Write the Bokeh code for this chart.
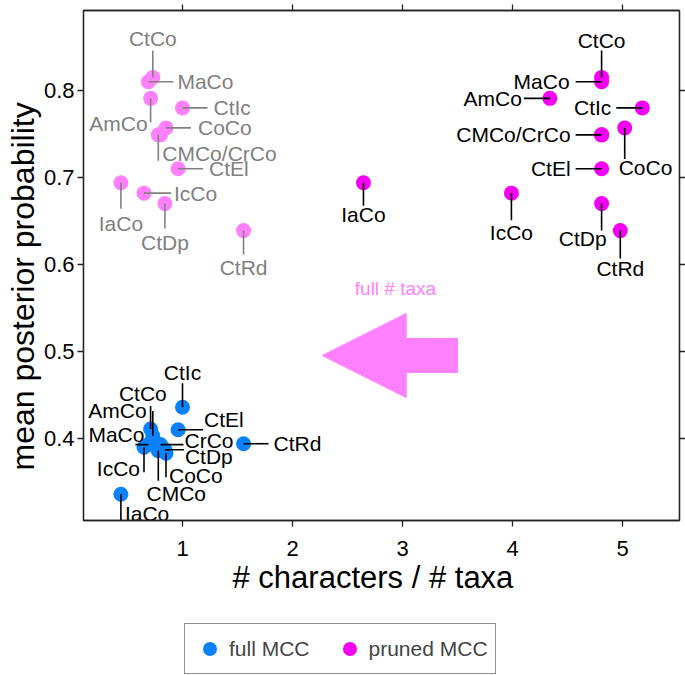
import numpy as np
from bokeh.plotting import figure
from bokeh.layouts import column
from bokeh.models import (LinearAxis, FixedTicker, Legend, LegendItem, Range1d, Title,
                          CustomJSTickFormatter)
from bokeh.core.properties import value
from bokeh.embed import file_html
from bokeh.resources import INLINE

# ---------------- data ----------------
taxa = ["CtCo", "MaCo", "AmCo", "CtIc", "CoCo", "CMCo", "CrCo", "CtEl", "IaCo", "IcCo", "CtDp", "CtRd"]
# full MCC: # characters / # taxa, mean posterior probability
full_x = [0.73, 0.69, 0.71, 1.00, 0.85, 0.78, 0.80, 0.96, 0.44, 0.65, 0.84, 1.555]
full_y = [0.403, 0.393, 0.411, 0.436, 0.383, 0.386, 0.393, 0.410, 0.336, 0.390, 0.387, 0.394]
# pruned MCC
pruned_x = [4.81, 4.81, 4.34, 5.18, 5.02, 4.81, 4.81, 4.81, 2.645, 3.99, 4.81, 4.98]
pruned_y = [0.815, 0.810, 0.791, 0.780, 0.757, 0.749, 0.749, 0.710, 0.694, 0.682, 0.670, 0.639]

x_ticks = [1, 2, 3, 4, 5]
y_ticks = [0.4, 0.5, 0.6, 0.7, 0.8]
series_names = ["full MCC", "pruned MCC"]
arrow_text = "full # taxa"
x_title = "# characters / # taxa"
y_title = "mean posterior probability"

# ---------------- layout / style ----------------
FONT = "Liberation Sans"
BLUE = "#0a82ff"
MAGENTA = "#f500f5"
PINK = "#ff80ff"
GREY = "#808080"
AXC = "#222222"

FW, FH = 596, 510
X0 = 0.10
Y0 = 0.30575
X1 = X0 + FW / 110.0
Y1 = Y0 + FH / 870.0
ppx = FW / (X1 - X0)
ppy = FH / (Y1 - Y0)

# label placement in screen px relative to the point (+dy = down):
# (text, line_dx, line_dy, text_dx, text_dy, align)
pruned_labels = {
    "CtCo": ("CtCo", 0, -27, 0, -37, "center"),
    "MaCo": ("MaCo", -26, 0, -32, 0, "right"),
    "AmCo": ("AmCo", -26, 0, -28, 0, "right"),
    "CtIc": ("CtIc", -26, 0, -31, 0, "right"),
    "CoCo": ("CoCo", 0, 31, -6, 40, "left"),
    "CMCo": ("CMCo/CrCo", -26, 0, -31, 0, "right"),
    "CtEl": ("CtEl", -26, 0, -31, 0, "right"),
    "IaCo": ("IaCo", 0, 23, 0, 32, "center"),
    "IcCo": ("IcCo", 0, 27, 0, 39, "center"),
    "CtDp": ("CtDp", 0, 27, 5, 35, "right"),
    "CtRd": ("CtRd", 0, 28, 0, 38, "center"),
}
ghost_labels = {
    "CtCo": ("CtCo", 0, -27, 0, -39, "center"),
    "MaCo": ("MaCo", 25, 0, 29, 0, "left"),
    "AmCo": ("AmCo", 0, 24, -3, 25, "right"),
    "CtIc": ("CtIc", 25, 0, 31, 0, "left"),
    "CoCo": ("CoCo", 25, 0, 32, 0, "left"),
    "CMCo": ("CMCo/CrCo", 0, 26, 4, 19, "left"),
    "CtEl": ("CtEl", 25, 0, 31, 0, "left"),
    "IaCo": ("IaCo", 0, 26, 0, 41, "center"),
    "IcCo": ("IcCo", 27, 0, 30, 0, "left"),
    "CtDp": ("CtDp", 0, 25, 0, 39, "center"),
    "CtRd": ("CtRd", 0, 24, 0, 37, "center"),
}
full_labels = {
    "CtIc": ("CtIc", 0, -24, 0, -35, "center"),
    "CtEl": ("CtEl", 25, 0, 26, -10, "left"),
    "AmCo": ("AmCo", 0, -23, -4, -18, "right"),
    "CtCo": ("CtCo", 0, -25, -10, -42, "center"),
    "MaCo": ("MaCo", -13, 0, -4, -10, "right"),
    "CrCo": ("CrCo", 23, 0, 24, -4, "left"),
    "IcCo": ("IcCo", 0, 25, -4, 21, "right"),
    "CMCo": ("CMCo", 0, 30, 18, 43, "center"),
    "CoCo": ("CoCo", 0, 24, 3, 22, "left"),
    "CtDp": ("CtDp", 19, 0, 20, 7, "left"),
    "CtRd": ("CtRd", 25, 0, 30, 0, "left"),
    "IaCo": ("IaCo", 0, 26, 4, 19, "left"),
}

p = figure(frame_width=FW, frame_height=FH, output_backend="svg", toolbar_location=None,
           x_range=Range1d(X0, X1), y_range=Range1d(Y0, Y1),
           min_border_left=83, min_border_right=0, min_border_top=10, min_border_bottom=85)
p.grid.visible = False
p.outline_line_color = AXC
p.outline_line_width = 1.3

def style_axis(ax, ticks, show_labels):
    ax.ticker = FixedTicker(ticks=ticks)
    ax.major_tick_out = 6
    ax.major_tick_in = 0
    ax.minor_tick_out = 0
    ax.minor_tick_in = 0
    ax.axis_line_color = AXC
    ax.axis_line_width = 1.3
    ax.major_tick_line_color = AXC
    ax.major_tick_line_width = 1.3
    ax.major_label_text_font = FONT
    ax.major_label_text_color = "black"
    if show_labels:
        ax.major_label_text_font_size = "22px"
    else:
        ax.formatter = CustomJSTickFormatter(code="return ''")
        ax.major_label_text_font_size = "1px"
        ax.major_label_standoff = 0

style_axis(p.xaxis[0], x_ticks, True)
style_axis(p.yaxis[0], y_ticks, True)
p.xaxis[0].major_label_standoff = 14
p.yaxis[0].major_label_standoff = 3

p.add_layout(Title(text=x_title, text_font=FONT, text_font_size="31px", text_font_style="normal",
                   text_color="black", align="left", offset=149, standoff=2,
                   vertical_align="top"), "below")
p.add_layout(Title(text=y_title, text_font=FONT, text_font_size="32px", text_font_style="normal",
                   text_color="black", align="left", offset=50, standoff=0), "left")

top_ax = LinearAxis()
style_axis(top_ax, x_ticks, False)
p.add_layout(top_ax, "above")
right_ax = LinearAxis()
style_axis(right_ax, y_ticks, False)
p.add_layout(right_ax, "right")

# arrow (annotation)
arrow_tip_x, arrow_tail_x, arrow_y = 2.27, 3.50, 0.4954
head_len_px, head_half_px, shaft_half_px = 84, 42, 17
hx = arrow_tip_x + head_len_px / ppx
ax_pts = [arrow_tip_x, hx, hx, arrow_tail_x, arrow_tail_x, hx, hx]
ay_pts = [arrow_y, arrow_y + head_half_px / ppy, arrow_y + shaft_half_px / ppy,
          arrow_y + shaft_half_px / ppy, arrow_y - shaft_half_px / ppy,
          arrow_y - shaft_half_px / ppy, arrow_y - head_half_px / ppy]
p.patch(ax_pts, ay_pts, fill_color=PINK, line_color=PINK, line_width=1)
p.text(x=[2.936], y=[0.5724], text=[arrow_text], text_color=PINK, text_font=value(FONT),
       text_font_size=value("19px"), text_align="center", text_baseline="middle")

# points
ghost = p.scatter(full_x, pruned_y, size=15, fill_color=PINK, line_color=None)
full_r = p.scatter(full_x, full_y, size=15, fill_color=BLUE, line_color=None)
pruned_r = p.scatter(pruned_x, pruned_y, size=15, fill_color=MAGENTA, line_color=None)

def draw_labels(xs, ys, specs, color):
    sx0, sy0, sx1, sy1, tx, ty, tt, ta = [], [], [], [], [], [], [], []
    for name, (txt, ldx, ldy, tdx, tdy, align) in specs.items():
        i = taxa.index(name)
        x, y = xs[i], ys[i]
        sx0.append(x); sy0.append(y)
        sx1.append(x + ldx / ppx); sy1.append(y - ldy / ppy)
        tx.append(x + tdx / ppx); ty.append(y - tdy / ppy)
        tt.append(txt); ta.append(align)
    p.segment(sx0, sy0, sx1, sy1, line_color=color, line_width=1.6)
    p.text(x=tx, y=ty, text=tt, text_align=ta, text_baseline="middle", text_color=color,
           text_font=value(FONT), text_font_size=value("21px"))

draw_labels(full_x, pruned_y, ghost_labels, GREY)
draw_labels(full_x, full_y, full_labels, "black")
draw_labels(pruned_x, pruned_y, pruned_labels, "black")

# legend strip under the plot (its own renderers lie outside its visible ranges)
p2 = figure(width=685, height=70, output_backend="svg", toolbar_location=None,
            x_range=Range1d(100, 101), y_range=Range1d(100, 101),
            x_axis_location=None, y_axis_location=None,
            min_border_left=0, min_border_right=0, min_border_top=0, min_border_bottom=0)
p2.grid.visible = False
p2.outline_line_color = None
leg_full = p2.scatter(full_x, full_y, size=15, fill_color=BLUE, line_color=None)
leg_pruned = p2.scatter(pruned_x, pruned_y, size=15, fill_color=MAGENTA, line_color=None)

legend = Legend(items=[LegendItem(label=series_names[0], renderers=[leg_full]),
                       LegendItem(label=series_names[1], renderers=[leg_pruned])],
                orientation="horizontal", location=(101, 1),
                glyph_width=35, glyph_height=35, padding=7, spacing=22, label_standoff=2,
                margin=0, border_line_color=AXC, border_line_width=1.3,
                label_text_font=FONT, label_text_font_size="21px", label_height=35,
                background_fill_alpha=0)
p2.add_layout(legend)

open("out.html", "w").write(file_html(column(p, p2, spacing=0), INLINE))
